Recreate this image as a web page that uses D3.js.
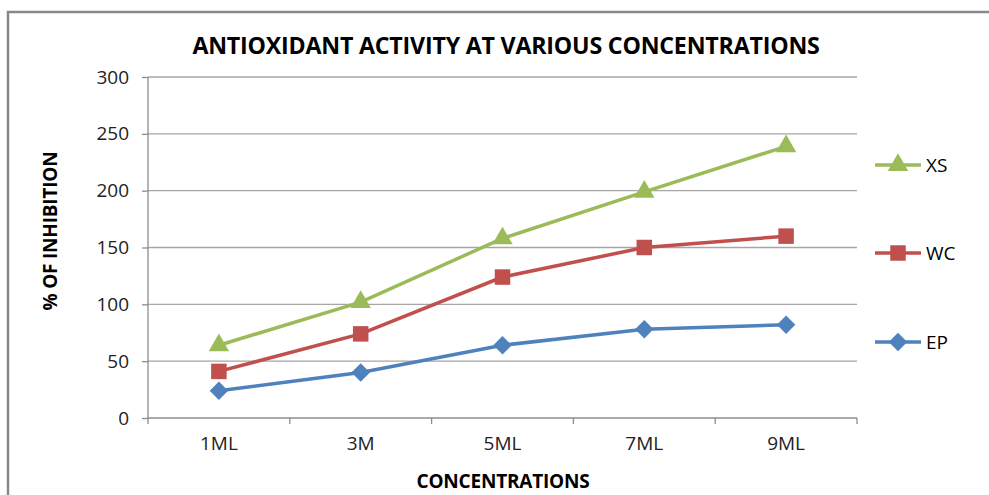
<!DOCTYPE html>
<html>
<head>
  <style>
    body{ margin:0; background:#fff; }
    text{ font-family: "Liberation Sans Narrow", "Open Sans", sans-serif; fill:#000; }
    .title{ font-weight:bold; font-size:23.2px; letter-spacing:-0.2px; }
    .axis-title{ font-weight:bold; font-size:19px; letter-spacing:-0.2px; }
    .tick text{ font-size:19px; fill:#222; }
    .legend text{ font-size:19px; }
  </style>
  <script src="https://d3js.org/d3.v7.min.js"></script>
</head>
<body>
<div class="chart"></div>
<script>
const categories = ['1ML', '3M', '5ML', '7ML', '9ML'];
const seriesNames = ['XS', 'WC', 'EP'];
const xsValues = [64, 102, 158, 199, 239];
const wcValues = [41, 74, 124, 150, 160];
const epValues = [24, 40, 64, 78, 82];
const yTicks = [0, 50, 100, 150, 200, 250, 300];

const width = 989, height = 495;
const margin = {left:148, right:132, top:77, bottom:77};

const svg = d3.select('.chart').append('svg')
  .attr('width', width).attr('height', height);

// outer frame
svg.append('path')
  .attr('d', `M8,${height} L8,12 L${width},12`)
  .attr('fill', 'none').attr('stroke', '#888').attr('stroke-width', 2.5);

const x = d3.scaleBand().domain(categories)
  .range([margin.left, width - margin.right]);
const y = d3.scaleLinear().domain([0, 300])
  .range([height - margin.bottom, margin.top]);

// gridlines
svg.append('g').selectAll('line').data(yTicks.slice(1)).join('line')
  .attr('x1', margin.left).attr('x2', width - margin.right)
  .attr('y1', d => y(d)).attr('y2', d => y(d))
  .attr('stroke', '#a6a6a6').attr('stroke-width', 1.3);

const yAxis = svg.append('g')
  .attr('transform', `translate(${margin.left},0)`)
  .call(d3.axisLeft(y).tickValues(yTicks).tickSize(6).tickPadding(13));
yAxis.selectAll('line, path').attr('stroke', '#8c8c8c').attr('stroke-width', 1.3);
yAxis.select('.domain').attr('d', `M0,${y(0)}V${y(300)}`);

const xAxis = svg.append('g')
  .attr('transform', `translate(0,${y(0)})`)
  .call(d3.axisBottom(x).tickSize(0).tickPadding(19));
xAxis.select('.domain').attr('stroke', '#8c8c8c').attr('stroke-width', 1.3)
  .attr('d', `M${margin.left},0H${width - margin.right}`);
// category boundary ticks
xAxis.append('g').selectAll('line')
  .data(categories.map(c => x(c)).concat([x.range()[1]])).join('line')
  .attr('x1', d => d).attr('x2', d => d).attr('y1', 0).attr('y2', 6)
  .attr('stroke', '#8c8c8c').attr('stroke-width', 1.3);

// titles
svg.append('text').attr('class', 'title')
  .attr('x', 506).attr('y', 54).attr('text-anchor', 'middle')
  .text('ANTIOXIDANT ACTIVITY AT VARIOUS CONCENTRATIONS');
svg.append('text').attr('class', 'axis-title')
  .attr('x', 503).attr('y', 488).attr('text-anchor', 'middle')
  .text('CONCENTRATIONS');
svg.append('text').attr('class', 'axis-title')
  .attr('transform', `translate(57,231) rotate(-90)`)
  .attr('text-anchor', 'middle')
  .text('% OF INHIBITION');

// Excel-style diamond: a square turned 45 degrees
const diamond = {draw(ctx, size){
  const r = Math.sqrt(size / 2);
  ctx.moveTo(0, -r); ctx.lineTo(r, 0); ctx.lineTo(0, r); ctx.lineTo(-r, 0); ctx.closePath();
}};

const series = [
  {name:'XS', values:xsValues, color:'#9bbb59', symbol:d3.symbolTriangle, size:180},
  {name:'WC', values:wcValues, color:'#c0504d', symbol:d3.symbolSquare, size:240},
  {name:'EP', values:epValues, color:'#4f81bd', symbol:diamond, size:170}
];

const line = d3.line()
  .x((d, i) => x(categories[i]) + x.bandwidth() / 2)
  .y(d => y(d));

series.forEach(s => {
  const g = svg.append('g');
  g.append('path').datum(s.values)
    .attr('d', line).attr('fill', 'none')
    .attr('stroke', s.color).attr('stroke-width', 3.5);
  g.selectAll('path.m').data(s.values).join('path').attr('class', 'm')
    .attr('d', d3.symbol().type(s.symbol).size(s.size))
    .attr('transform', (d, i) => `translate(${x(categories[i]) + x.bandwidth() / 2},${y(d)})`)
    .attr('fill', s.color);
});

// legend
const legendY = [165, 253, 342];
const legend = svg.append('g').attr('class', 'legend');
series.forEach((s, i) => {
  const g = legend.append('g').attr('transform', `translate(875,${legendY[i]})`);
  g.append('line').attr('x1', 0).attr('x2', 46)
    .attr('stroke', s.color).attr('stroke-width', 3.5);
  g.append('path').attr('d', d3.symbol().type(s.symbol).size(s.size))
    .attr('transform', 'translate(23,0)').attr('fill', s.color);
  g.append('text').attr('x', 51).attr('y', 7).text(s.name);
});
</script>
</body>
</html>
